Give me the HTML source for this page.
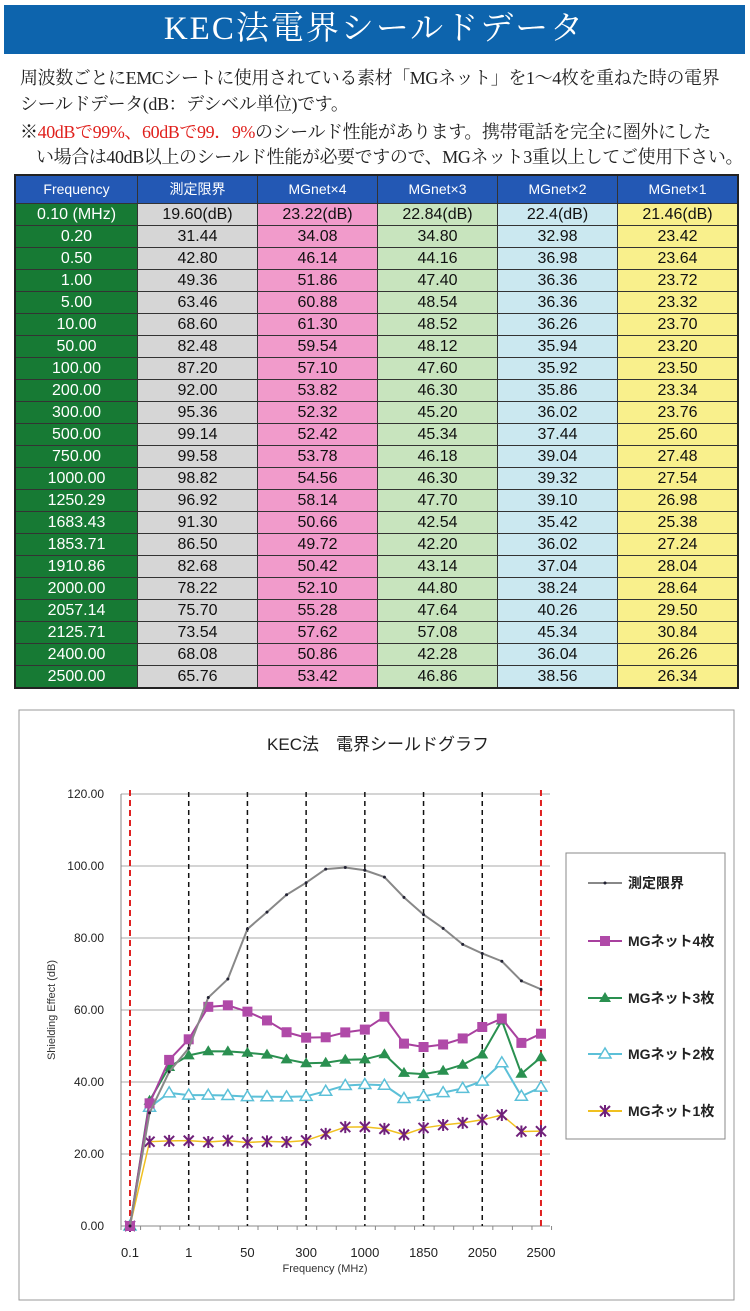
<!DOCTYPE html>
<html><head><meta charset="utf-8"><style>
body{margin:0;width:750px;height:1311px;background:#fff;position:relative;overflow:hidden;font-family:"Liberation Sans","Noto Sans CJK JP",sans-serif}
.hd{position:absolute;left:4px;top:5px;width:741px;height:49px;background:#0d64ad;color:#fff;font-family:"Liberation Serif","Noto Serif CJK SC",serif;font-size:33px;text-align:center;line-height:49px;letter-spacing:2px}
.p{position:absolute;left:20px;font-family:"Liberation Serif","Noto Serif CJK SC",serif;font-size:18px;color:#222;white-space:nowrap;letter-spacing:-0.4px}
.r{color:#e0201c}
table{position:absolute;left:14px;top:174px;border-collapse:collapse;border:2px solid #222;font-size:16px}
td{border:1px solid #333;text-align:center;padding:0;height:21px;line-height:21px;color:#111}
tr.h td{background:#2358b4;color:#fff;height:27px;font-size:14px}
td.f{background:#177a34;color:#fff;width:121px}
td.a{background:#d6d6d6;width:119px}td.b{background:#f19bcb;width:119px}td.c{background:#c8e4be;width:119px}td.d{background:#cbe8f0;width:119px}td.e{background:#f9f08c;width:119px}
</style></head><body>
<div class="hd">KEC法電界シールドデータ</div>
<div class="p" style="top:64px">周波数ごとにEMCシートに使用されている素材「MGネット」を1～4枚を重ねた時の電界</div>
<div class="p" style="top:90px">シールドデータ(dB：デシベル単位)です。</div>
<div class="p" style="top:118px">※<span class="r">40dBで99%、60dBで99．9%</span>のシールド性能があります。携帯電話を完全に圏外にした</div>
<div class="p" style="top:143px;left:36px">い場合は40dB以上のシールド性能が必要ですので、MGネット3重以上してご使用下さい。</div>
<table id="t"><tr class="h"><td>Frequency</td><td>測定限界</td><td>MGnet×4</td><td>MGnet×3</td><td>MGnet×2</td><td>MGnet×1</td></tr></table>
<svg style="position:absolute;left:0;top:0" width="750" height="1311" id="s"></svg>
<script>
var F=["0.10 (MHz)","0.20","0.50","1.00","5.00","10.00","50.00","100.00","200.00","300.00","500.00","750.00","1000.00","1250.29","1683.43","1853.71","1910.86","2000.00","2057.14","2125.71","2400.00","2500.00"];
var A=[19.60,31.44,42.80,49.36,63.46,68.60,82.48,87.20,92.00,95.36,99.14,99.58,98.82,96.92,91.30,86.50,82.68,78.22,75.70,73.54,68.08,65.76];
var B=[23.22,34.08,46.14,51.86,60.88,61.30,59.54,57.10,53.82,52.32,52.42,53.78,54.56,58.14,50.66,49.72,50.42,52.10,55.28,57.62,50.86,53.42];
var C=[22.84,34.80,44.16,47.40,48.54,48.52,48.12,47.60,46.30,45.20,45.34,46.18,46.30,47.70,42.54,42.20,43.14,44.80,47.64,57.08,42.28,46.86];
var D=[22.4,32.98,36.98,36.36,36.36,36.26,35.94,35.92,35.86,36.02,37.44,39.04,39.32,39.10,35.42,36.02,37.04,38.24,40.26,45.34,36.04,38.56];
var E=[21.46,23.42,23.64,23.72,23.32,23.70,23.20,23.50,23.34,23.76,25.60,27.48,27.54,26.98,25.38,27.24,28.04,28.64,29.50,30.84,26.26,26.34];
function fx(v){return v.toFixed(2)}
var h="";for(var i=0;i<22;i++){var s=i==0?"(dB)":"";h+="<tr><td class=f>"+F[i]+"</td><td class=a>"+fx(A[i])+s+"</td><td class=b>"+fx(B[i])+s+"</td><td class=c>"+fx(C[i])+s+"</td><td class=d>"+(i==0?"22.4":fx(D[i]))+s+"</td><td class=e>"+fx(E[i])+s+"</td></tr>";}
document.getElementById("t").innerHTML+=h;
var g='<rect x="19" y="710" width="715" height="590" fill="#fff" stroke="#999"/>';
g+='<text x="378" y="750" font-size="17" text-anchor="middle" fill="#222">KEC法　電界シールドグラフ</text>';
function Y(v){return 1226-v*3.6}function X(i){return 130+i*19.57}
for(var k=0;k<=6;k++){var y=Y(k*20);if(k>0)g+='<line x1="121" x2="550" y1="'+y+'" y2="'+y+'" stroke="#aaa"/>';g+='<text x="104" y="'+(y+4)+'" font-size="12" text-anchor="end" fill="#222">'+(k*20).toFixed(2)+'</text>';}
g+='<line x1="121" y1="794" x2="121" y2="1226" stroke="#888"/><line x1="121" y1="1226" x2="550" y2="1226" stroke="#888"/>';
for(i=0;i<=22;i++)g+='<line x1="'+(121+i*19.57)+'" x2="'+(121+i*19.57)+'" y1="1226" y2="1230" stroke="#888"/>';
[3,6,9,12,15,18].forEach(function(i){g+='<line x1="'+X(i)+'" x2="'+X(i)+'" y1="792" y2="1226" stroke="#111" stroke-width="1.5" stroke-dasharray="5,4"/>'});
[0,21].forEach(function(i){g+='<line x1="'+X(i)+'" x2="'+X(i)+'" y1="790" y2="1226" stroke="#e02020" stroke-width="2" stroke-dasharray="6,4"/>'});
var xl=[["0.1",0],["1",3],["50",6],["300",9],["1000",12],["1850",15],["2050",18],["2500",21]];
xl.forEach(function(a){g+='<text x="'+X(a[1])+'" y="1257" font-size="13" text-anchor="middle" fill="#222">'+a[0]+'</text>'});
g+='<text x="325" y="1272" font-size="11" text-anchor="middle" fill="#333">Frequency (MHz)</text>';
g+='<text transform="translate(55,1010) rotate(-90)" font-size="11" text-anchor="middle" fill="#333">Shielding Effect (dB)</text>';
function pts(a){var r=[[X(0),Y(0)]];for(var i=1;i<22;i++)r.push([X(i),Y(a[i])]);return r}
function line(p,c,w){return '<polyline fill="none" stroke="'+c+'" stroke-width="'+w+'" stroke-linejoin="round" points="'+p.map(function(q){return q.join(",")}).join(" ")+'"/>'}
function mk(t,x,y,c){if(t=="d")return '<circle cx="'+x+'" cy="'+y+'" r="1.5" fill="#223"/>';
if(t=="s")return '<rect x="'+(x-5)+'" y="'+(y-5)+'" width="10" height="10" fill="#b04aa8"/>';
if(t=="t")return '<polygon points="'+x+','+(y-6)+' '+(x-6)+','+(y+4)+' '+(x+6)+','+(y+4)+'" fill="#2a9050"/>';
if(t=="o")return '<polygon points="'+x+','+(y-6)+' '+(x-6)+','+(y+4)+' '+(x+6)+','+(y+4)+'" fill="#fff" stroke="#5cc0d8" stroke-width="1.5"/>';
return '<path d="M'+(x-5)+','+(y-5)+'L'+(x+5)+','+(y+5)+'M'+(x+5)+','+(y-5)+'L'+(x-5)+','+(y+5)+'M'+x+','+(y-6)+'L'+x+','+(y+6)+'" stroke="#70207a" stroke-width="2"/>'}
var S=[[A,"#888",2,"d"],[B,"#a8409e",2,"s"],[C,"#2a9050",2,"t"],[D,"#5cc0d8",2,"o"],[E,"#f0c020",1.5,"x"]];
S.slice().reverse().forEach(function(s){var p=pts(s[0]);g+=line(p,s[1],s[2]);p.forEach(function(q){g+=mk(s[3],q[0],q[1])})});
g+='<rect x="566" y="853" width="159" height="286" fill="#fff" stroke="#888"/>';
var ln=["測定限界","MGネット4枚","MGネット3枚","MGネット2枚","MGネット1枚"],ly=[883,941,998,1054,1111];
S.forEach(function(s,i){var y=ly[i];g+='<line x1="588" x2="622" y1="'+y+'" y2="'+y+'" stroke="'+s[1]+'" stroke-width="2"/>'+mk(s[3],605,y)+'<text x="628" y="'+(y+5)+'" font-size="14" font-weight="bold" fill="#222">'+ln[i]+'</text>'});
document.getElementById("s").innerHTML=g;
</script>
</body></html>
